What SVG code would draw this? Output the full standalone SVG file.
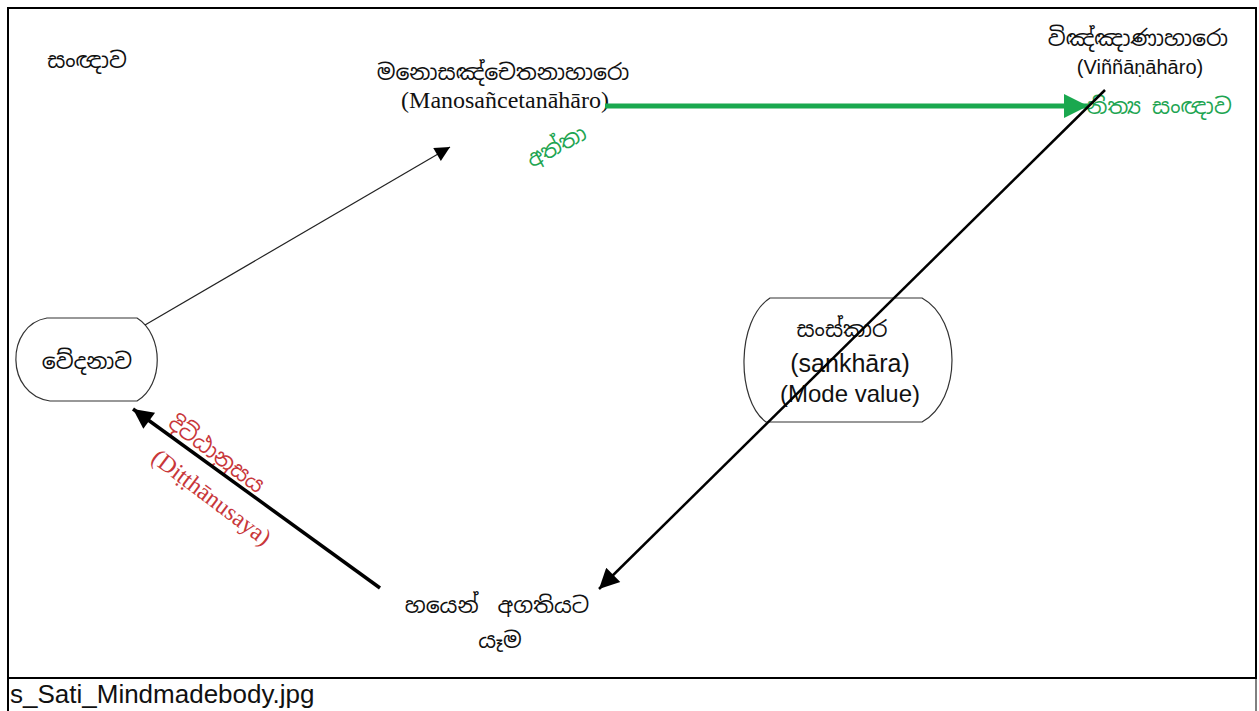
<svg xmlns="http://www.w3.org/2000/svg" width="1259" height="711" viewBox="0 0 1259 711">
<style>
.si{font-family:"Noto Sans Sinhala","Noto Serif Sinhala","Iskoola Pota","Noto Sans","DejaVu Sans",sans-serif;font-size:22px;fill:#111;text-anchor:middle}
.tm{font-family:"Liberation Serif","Times New Roman",serif;font-size:24px;fill:#111;text-anchor:middle}
.ar{font-family:"Liberation Sans",Arial,sans-serif;fill:#111;text-anchor:middle}
.green{fill:#1ea552}
.red{fill:#c8373a}
.shape{fill:#fff;stroke:#333;stroke-width:1.2}
</style>
<defs>
<marker id="hThin" viewBox="0 0 10 10" refX="10" refY="5" markerWidth="20" markerHeight="15" markerUnits="userSpaceOnUse" orient="auto"><path d="M0,0 L10,5 L0,10 Z" fill="#000"/></marker>
<marker id="hBlack" viewBox="0 0 10 10" refX="10" refY="5" markerWidth="26" markerHeight="20" markerUnits="userSpaceOnUse" orient="auto"><path d="M0,0 L10,5 L0,10 Z" fill="#000"/></marker>
<marker id="hGreen" viewBox="0 0 10 10" refX="10" refY="5" markerWidth="26" markerHeight="24" markerUnits="userSpaceOnUse" orient="auto"><path d="M0,0 L10,5 L0,10 Z" fill="#1aa84f"/></marker>
</defs>
<rect x="0" y="0" width="1259" height="711" fill="#fff"/>
<g id="frame" fill="none" stroke="#000">
<rect x="8" y="8" width="1248" height="670" stroke-width="2"/>
<line x1="8" y1="678" x2="8" y2="711" stroke-width="2"/>
<line x1="1256" y1="678" x2="1256" y2="711" stroke-width="1"/>
</g>
<g id="sanna"><text class="si" x="87" y="68" font-size="24">සංඥාව</text></g>
<g id="manosancetana">
<text class="si" x="503" y="80" font-size="24">මනොසඤ්චෙතනාහාරො</text>
<text class="tm" x="505" y="108">(Manosañcetanāhāro)</text>
</g>
<g id="vinnana">
<text class="si" x="1138" y="46" font-size="25">විඤ්ඤාණාහාරො</text>
<text class="ar" x="1140" y="74" font-size="20">(Viññāṇāhāro)</text>
</g>
<g id="nitya"><text class="si green" x="1159" y="114" font-size="23">නිත්‍ය සංඥාව</text></g>
<g id="atta"><text class="si green" transform="translate(560,153) rotate(-28)" x="0" y="0">අත්තා</text></g>
<g id="vedana">
<path class="shape" d="M47,318 L137,318 C164,335 164,385 137,401 L50,401 C5,395 5,325 47,318 Z"/>
<text class="si" x="87" y="369" font-size="26">වේදනාව</text>
</g>
<g id="sankhara">
<path class="shape" d="M770,298 L922,298 C962,320 962,400 922,422 L766,422 C736,400 736,320 770,298 Z"/>
<text class="si" x="842" y="337" font-size="25">සංස්කාර</text>
<text class="ar" x="850" y="372" font-size="25">(sankhāra)</text>
<text class="ar" x="850" y="402" font-size="24">(Mode value)</text>
</g>
<g id="bhayena">
<text class="si" x="497" y="613" font-size="28" word-spacing="8">හයෙන් අගතියට</text>
<text class="si" x="500" y="648" font-size="26">යෑම</text>
</g>
<g id="ditthanusaya" transform="translate(212,460) rotate(37)">
<text class="si red" x="0" y="0" font-size="31">දිට්ඨානුසය</text>
<text class="tm red" x="22" y="38" font-size="34">(Diṭṭhānusaya)</text>
</g>
<g id="connectors" fill="none">
<line x1="145" y1="325" x2="450" y2="147" stroke="#222" stroke-width="1.2" marker-end="url(#hThin)"/>
<line x1="605" y1="106" x2="1088" y2="106" stroke="#1aa84f" stroke-width="5" marker-end="url(#hGreen)"/>
<line x1="1105" y1="90" x2="599" y2="589" stroke="#000" stroke-width="2.5" marker-end="url(#hBlack)"/>
<line x1="380" y1="588" x2="133" y2="409" stroke="#000" stroke-width="3.5" marker-end="url(#hBlack)"/>
</g>
<g id="caption"><text x="10" y="703" style="font-family:'Liberation Sans',Arial,sans-serif;font-size:26px;fill:#111;text-anchor:start">s_Sati_Mindmadebody.jpg</text></g>
</svg>
